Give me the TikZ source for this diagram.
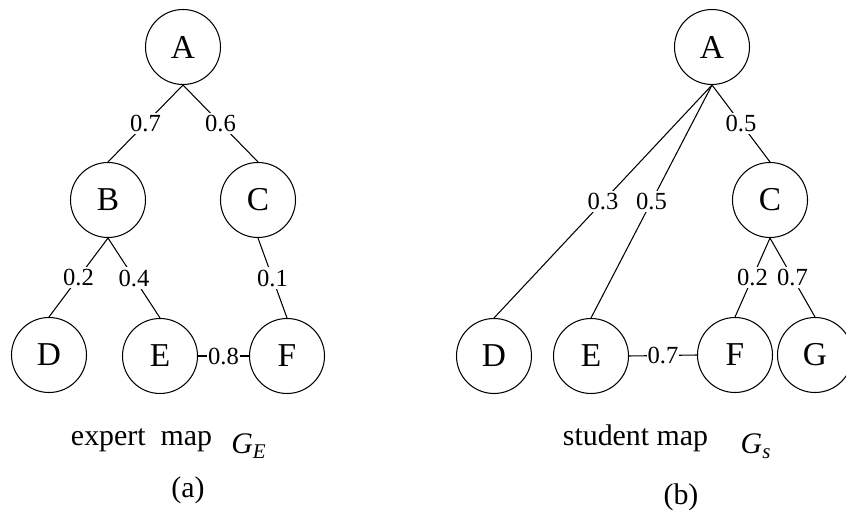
\documentclass[tikz,border=0pt]{standalone}
\usepackage{fontspec}
\setmainfont{Liberation Serif}
\usetikzlibrary{positioning}

\begin{document}
\begin{tikzpicture}[
			mapnode/.style={
				draw,
				circle,
				line width=0.6pt,
				minimum size=1.5cm,
				inner sep=0pt,
				font=\fontsize{19}{21}\selectfont
			},
			maplink/.style={
				draw,
				line width=0.6pt
			},
			weight/.style={
				fill=white,
				inner sep=1.5pt,
				font=\fontsize{14}{16}\selectfont
			},
			caption/.style={
				inner sep=0pt,
				font=\fontsize{17}{20}\selectfont
			}
			]
			
			\clip (0,0) rectangle (16.92,-10.26);
			
			% (a) expert map
			\node[mapnode] (expA) at (3.66,-0.94) {A};
			\node[mapnode] (expB) at (2.16,-4.00) {B};
			\node[mapnode] (expC) at (5.16,-4.00) {C};
			\node[mapnode] (expD) at (0.98,-7.10) {D};
			\node[mapnode] (expE) at (3.20,-7.12) {E};
			\node[mapnode] (expF) at (5.74,-7.12) {F};
			
			\draw[maplink] (expA.south) -- node[weight] {0.7} (expB.north);
			\draw[maplink] (expA.south) -- node[weight] {0.6} (expC.north);
			\draw[maplink] (expB.south) -- node[weight] {0.2} (expD.north);
			\draw[maplink] (expB.south) -- node[weight] {0.4} (expE.north);
			\draw[maplink] (expC.south) -- node[weight] {0.1} (expF.north);
			\draw[maplink] (expE.east) -- node[weight,inner xsep=0.5pt] {0.8} (expF.west);
			
			\node[caption] (expname) at (2.83,-8.80) {expert\ \ map};
			\node[caption] (expsym) at (4.98,-8.92) {\itshape G\textsubscript{E}};
			\node[caption] (expcap) at (3.76,-9.80) {(a)};
			
			% (b) student map
			\node[mapnode] (stuA) at (14.24,-0.94) {A};
			\node[mapnode] (stuC) at (15.40,-4.00) {C};
			\node[mapnode] (stuD) at (9.88,-7.12) {D};
			\node[mapnode] (stuE) at (11.82,-7.12) {E};
			\node[mapnode] (stuF) at (14.70,-7.10) {F};
			\node[mapnode] (stuG) at (16.30,-7.10) {G};
			
			\draw[maplink] (stuA.south) -- node[weight] {0.3} (stuD.north);
			\draw[maplink] (stuA.south) -- node[weight] {0.5} (stuE.north);
			\draw[maplink] (stuA.south) -- node[weight] {0.5} (stuC.north);
			\draw[maplink] (stuC.south) -- node[weight] {0.2} (stuF.north);
			\draw[maplink] (stuC.south) -- node[weight] {0.7} (stuG.north);
			\draw[maplink] (stuE.east) -- node[weight,inner xsep=0.5pt] {0.7} (stuF.west);
			
			\node[caption] (stuname) at (12.71,-8.76) {student map};
			\node[caption] (stusym) at (15.12,-8.92) {\itshape G\textsubscript{s}};
			\node[caption] (stucap) at (13.62,-9.94) {(b)};
			
		\end{tikzpicture}
\end{document}
